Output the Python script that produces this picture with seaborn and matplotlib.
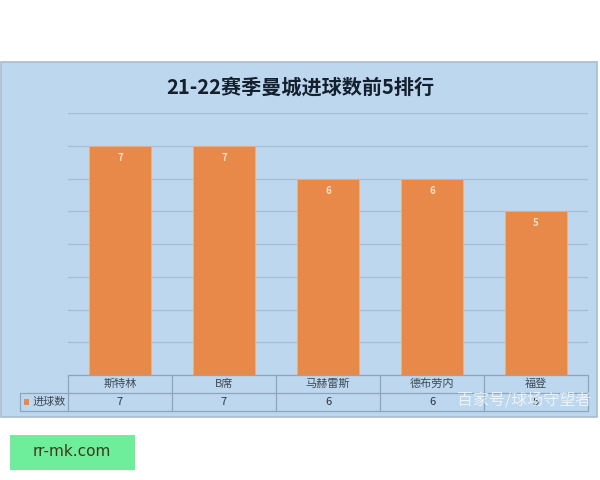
import matplotlib
matplotlib.use("Agg")
import matplotlib.pyplot as plt
import matplotlib.patches as patches
import seaborn as sns
import pandas as pd

players = ["斯特林", "B席", "马赫雷斯", "德布劳内", "福登"]
goals = [7, 7, 6, 6, 5]
series_name = "进球数"
title = "21-22赛季曼城进球数前5排行"
watermark = "百家号/球场守望者"
site = "rr-mk.com"

sns.set_style("white")
plt.rcParams['font.family'] = ['Noto Sans CJK SC', 'DejaVu Sans']

W, H = 600, 480
fig = plt.figure(figsize=(6, 4.8), dpi=100)
fig.patch.set_facecolor("white")

def fx(px):
    return px / W

def fy(py):
    return 1 - py / H

# background axes for panel and site box
bg = fig.add_axes([0, 0, 1, 1], zorder=-10)
bg.set_xlim(0, W)
bg.set_ylim(H, 0)
bg.axis("off")
bg.add_patch(patches.Rectangle((0.5, 62), 596.5, 355, facecolor="#BDD7EE",
                               edgecolor="#A9BCCF", linewidth=1.2))
bg.add_patch(patches.Rectangle((10, 435), 125, 35, facecolor="#6EEE9A",
                               edgecolor="none"))
bg.text(72, 452, site, ha="center", va="center", fontsize=11,
        color="#3D3A1C", family=["DejaVu Sans"])
bg.text(300, 87, title, ha="center", va="center", fontsize=14.5,
        fontweight="bold", color="#15202E")

# main axes
x0, x1 = 68, 588
ytop, ybot = 113, 375
ax = fig.add_axes([fx(x0), fy(ybot), (x1 - x0) / W, (ybot - ytop) / H], zorder=1)
ax.set_facecolor("none")
df = pd.DataFrame({"player": players, "goals": goals})
sns.barplot(data=df, x="player", y="goals", color="#E8894A", saturation=1,
            width=0.6, ax=ax, zorder=3, edgecolor="#F0B080", linewidth=0.6)
ax.set_ylim(0, 8)
ax.set_xlim(-0.5, 4.5)
ax.set_yticks(range(0, 9))
ax.yaxis.grid(True, color="#A6BDD3", linewidth=0.9, zorder=0)
ax.xaxis.grid(False)
ax.set_axisbelow(True)
ax.tick_params(left=False, bottom=False, labelleft=False, labelbottom=False)
for s in ax.spines.values():
    s.set_visible(False)
ax.set_xlabel("")
ax.set_ylabel("")
for i, v in enumerate(goals):
    ax.text(i, v - 0.37, str(v), ha="center", va="center", fontsize=7,
            fontweight="bold", color="#F8E0C8", zorder=4)

# table axes
tx0, tx1 = 20, 588
unit = (x1 - x0) / 5
left_lim = -0.5 - (x0 - tx0) / unit
tax = fig.add_axes([fx(tx0), fy(411), (tx1 - tx0) / W, (411 - 375) / H], zorder=2)
tax.set_facecolor("none")
tax.set_xlim(left_lim, 4.5)
tax.set_ylim(0, 2)
tax.axis("off")
lc = "#8EA5BC"
lw = 0.9
tax.plot([-0.5, 4.5], [2, 2], color=lc, lw=lw, clip_on=False)
tax.plot([left_lim, 4.5], [1, 1], color=lc, lw=lw, clip_on=False)
tax.plot([left_lim, 4.5], [0, 0], color=lc, lw=lw, clip_on=False)
tax.plot([left_lim, left_lim], [0, 1], color=lc, lw=lw, clip_on=False)
for k in range(6):
    xv = -0.5 + k
    tax.plot([xv, xv], [0, 2], color=lc, lw=lw, clip_on=False)
for i, p in enumerate(players):
    tax.text(i, 1.5, p, ha="center", va="center", fontsize=8, color="#3F4A55")
    tax.text(i, 0.5, str(goals[i]), ha="center", va="center", fontsize=8,
             color="#2B3540")
tax.add_patch(patches.Rectangle((left_lim + 0.04, 0.35), 0.05, 0.3,
                                facecolor="#E8894A", edgecolor="none", clip_on=False))
tax.text(left_lim + 0.12, 0.5, series_name, ha="left", va="center",
         fontsize=8, color="#3F4A55")

# watermark
fig.text(fx(524), fy(401), watermark, ha="center", va="center", fontsize=11.5,
         color="white", alpha=0.7, zorder=5)

fig.savefig("out.png", dpi=100, facecolor="white")
